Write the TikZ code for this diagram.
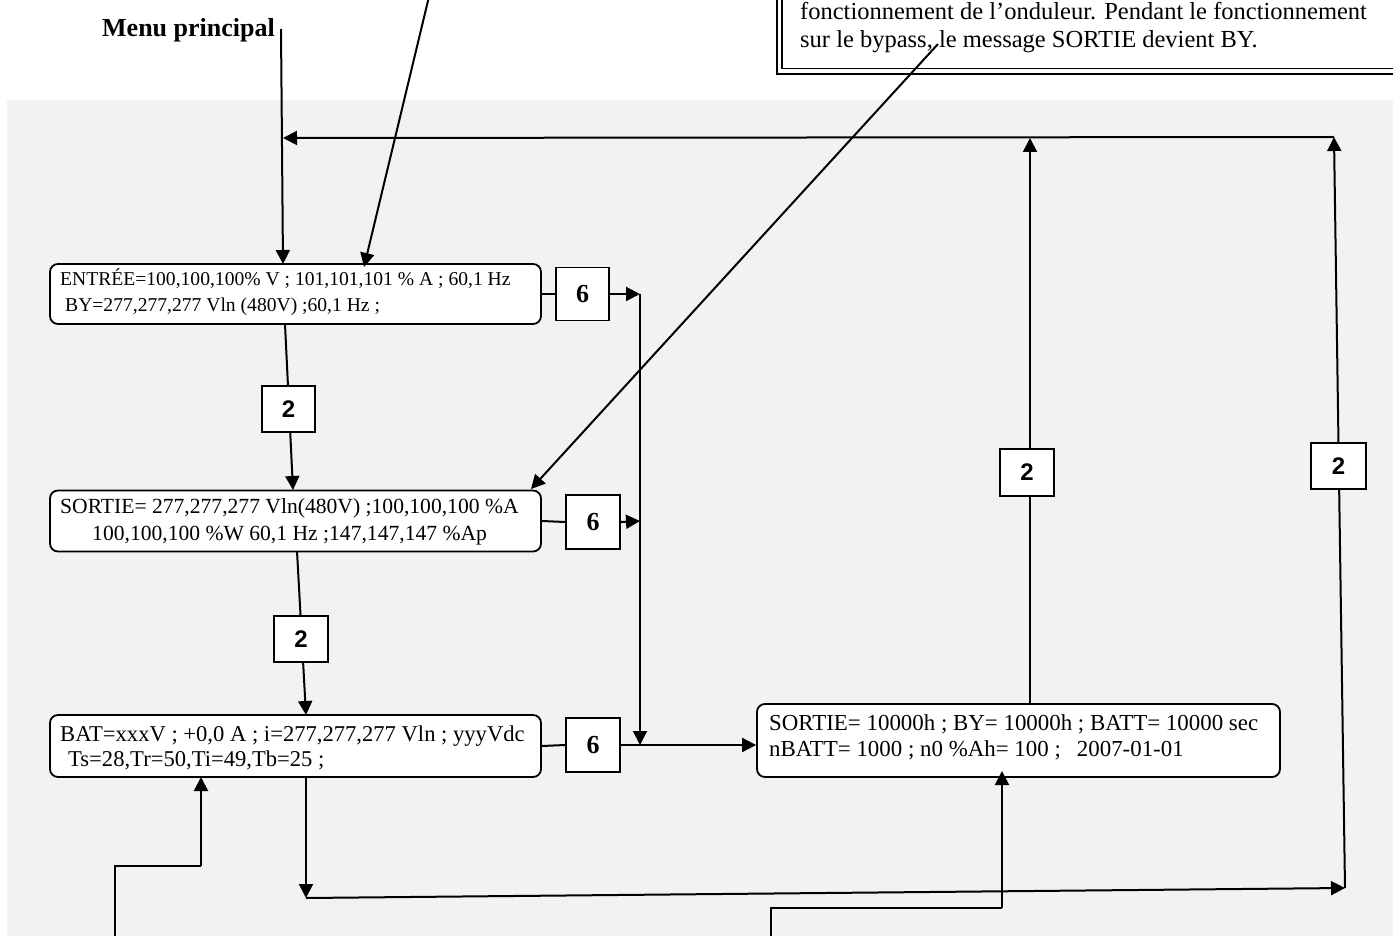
\documentclass[tikz,border=0pt]{standalone}
\usepackage{fontspec}
\setmainfont{Liberation Serif}
\newfontfamily\arialfont{Liberation Sans}
\usetikzlibrary{arrows.meta,calc}
\definecolor{bg}{HTML}{F2F2F2}
\tikzset{
  conn/.style={line width=2pt, draw=black},
  arr/.style={conn, -{Triangle[length=14pt,width=14pt]}},
  msgbox/.style={draw=black, line width=1.8pt, fill=white, rounded corners=8pt, inner sep=0pt},
  labbox/.style={draw=black, line width=1.8pt, fill=white, inner sep=0pt, minimum width=54pt, minimum height=46pt},
  twolab/.style={labbox, font=\arialfont\bfseries\fontsize{24pt}{24pt}\selectfont},
  sixlab/.style={labbox, font=\bfseries\fontsize{26pt}{26pt}\selectfont},
  txt/.style={inner sep=0pt, anchor=base west},
}
\begin{document}
\begin{tikzpicture}[x=1pt,y=-1pt]
\useasboundingbox (0,0) rectangle (1393,936);
\clip (0,0) rectangle (1393,936);
% background
\fill[bg] (7,100) rectangle (1400,940);
% note box (top right)
\draw[line width=2.7pt, fill=white] (777,-20) rectangle (1420,74);
\draw[line width=1.3pt] (782,-20) rectangle (1420,68.5);
\node[txt, font=\fontsize{24.5pt}{28pt}\selectfont] (note1) at (800,20) {fonctionnement de l’onduleur. Pendant le fonctionnement};
\node[txt, font=\fontsize{24.5pt}{28pt}\selectfont] (note2) at (800,48) {sur le bypass, le message SORTIE devient BY.};
% menu principal
\node[txt, font=\bfseries\fontsize{26pt}{30pt}\selectfont] (menu) at (102,37) {Menu principal};

% message boxes
\node[msgbox, minimum width=491pt, minimum height=60pt] (entree) at (295.5,294) {};
\node[msgbox, minimum width=491pt, minimum height=61pt] (sortie) at (295.5,521) {};
\node[msgbox, minimum width=491pt, minimum height=62pt] (bat) at (295.5,746) {};
\node[msgbox, minimum width=523pt, minimum height=73pt] (stats) at (1018.5,740.5) {};

\node[txt, font=\fontsize{19.6pt}{23pt}\selectfont] (e1) at (60,286) {ENTRÉE=100,100,100\% V ; 101,101,101 \% A ; 60,1 Hz};
\node[txt, font=\fontsize{19.6pt}{23pt}\selectfont] (e2) at (65,312) {BY=277,277,277 Vln (480V) ;60,1 Hz ;};
\node[txt, font=\fontsize{21.6pt}{25pt}\selectfont] (s1) at (60,513) {SORTIE= 277,277,277 Vln(480V) ;100,100,100 \%A};
\node[txt, font=\fontsize{21.6pt}{25pt}\selectfont] (s2) at (92,540) {100,100,100 \%W 60,1 Hz ;147,147,147 \%Ap};
\node[txt, font=\fontsize{22.6pt}{26pt}\selectfont] (b1) at (60,741) {BAT=xxxV ; +0,0 A ; i=277,277,277 Vln ; yyyVdc};
\node[txt, font=\fontsize{22.6pt}{26pt}\selectfont] (b2) at (68,766) {Ts=28,Tr=50,Ti=49,Tb=25 ;};
\node[txt, font=\fontsize{22.9pt}{26pt}\selectfont] (t1) at (769,730) {SORTIE= 10000h ; BY= 10000h ; BATT= 10000 sec};
\node[txt, font=\fontsize{22.9pt}{26pt}\selectfont] (t2) at (769,756) {nBATT= 1000 ; n0 \%Ah= 100 ;\hspace*{16pt}2007-01-01};

% coordinates
\coordinate (menuTop) at (281,29);
\coordinate (eIn1) at (283,264);
\coordinate (cTop) at (433,-20);
\coordinate (eIn2) at (364,267);
\coordinate (byp) at (938,44);
\coordinate (sIn) at (531,489);
\coordinate (eOut) at (285,324);
\coordinate (sIn2) at (293,490);
\coordinate (sOut) at (297,551);
\coordinate (bIn) at (306,715);
\coordinate (j1) at (640,294);
\coordinate (j2) at (640,521);
\coordinate (bOut) at (306,777);
\coordinate (bDown) at (306,898);
\coordinate (rB) at (1345,888);
\coordinate (rT) at (1334,137);
\coordinate (lT) at (283,138);
\coordinate (stTop) at (1030,704);
\coordinate (stUp) at (1030,138);
\coordinate (f1a) at (115,950);
\coordinate (f1b) at (115,866);
\coordinate (f1c) at (201,866);
\coordinate (f1d) at (201,777);
\coordinate (f2a) at (771,950);
\coordinate (f2b) at (771,908);
\coordinate (f2c) at (1002,908);
\coordinate (f2d) at (1002,771);

% connectors
\draw[arr] (menuTop) -- (eIn1);
\draw[arr] (cTop) -- (eIn2);
\draw[arr] (byp) -- (sIn);
\draw[arr] (eOut) -- (sIn2);
\draw[arr] (sOut) -- (bIn);
\draw[arr] (bOut) -- (bDown);
\draw[arr] (bDown) -- (rB);
\draw[arr] (rB) -- (rT);
\draw[arr] (rT) -- (lT);
\draw[arr] (stTop) -- (stUp);
\draw[conn] (f1a) -- (f1b) -- (f1c);
\draw[arr] (f1c) -- (f1d);
\draw[conn] (f2a) -- (f2b) -- (f2c);
\draw[arr] (f2c) -- (f2d);

% label boxes
\node[sixlab, minimum width=53pt, minimum height=53pt] (six1) at (582.5,294) {6};
\node[sixlab, minimum height=54pt] (six2) at (593,522) {6};
\node[sixlab, minimum height=54pt] (six3) at (593,745) {6};
\node[twolab, minimum width=53pt] (twoA) at (288.5,409) {2};
\node[twolab] (twoB) at (301,639) {2};
\node[twolab, minimum height=47pt] (twoC) at (1027,472.5) {2};
\node[twolab, minimum width=55pt] (twoD) at (1338.5,466) {2};

\draw[conn] (entree.east) -- (six1.west);
\draw[arr] (six1.east) -- (j1);
\draw[conn] (sortie.east) -- (six2.west);
\draw[arr] (six2.east) -- (j2);
\draw[conn] (bat.east) -- (six3.west);
\draw[arr] (six3.east) -- (six3.east -| stats.west);
\draw[arr] (j1) -- (j1 |- six3.east);
\end{tikzpicture}
\end{document}
